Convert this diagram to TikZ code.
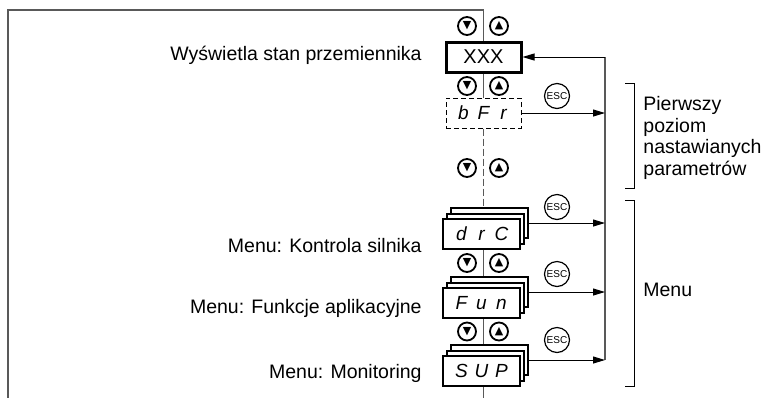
\documentclass[tikz,border=0pt]{standalone}
\usepackage{fontspec}
\setmainfont{Liberation Sans}
\newfontfamily\symfont{DejaVu Sans}
\usetikzlibrary{arrows.meta}

% seven segment display text, one fixed cell per character
\newcommand{\segtxt}[3]{\makebox[10pt]{#1}\makebox[10pt]{#2}\makebox[10pt]{#3}}

\tikzset{
  rail/.style={black!65, line width=0.7pt},
  wire/.style={black, line width=0.5pt},
  keybtn/.style={circle, draw, line width=0.9pt, minimum size=9pt, inner sep=0pt, font=\symfont\fontsize{5.5}{5.5}\selectfont},
  escbtn/.style={circle, draw, line width=0.6pt, minimum size=12.5pt, inner sep=0pt, font=\fontsize{5}{5}\selectfont},
  dispbox/.style={draw, minimum width=37.5pt, minimum height=15pt, inner sep=0pt},
  lcdbox/.style={draw, fill=white, line width=1pt, minimum width=38.5pt, minimum height=15pt, inner sep=0pt, font=\itshape\fontsize{9.5}{9.5}\selectfont},
  menutext/.style={anchor=east, inner sep=0pt, font=\fontsize{9.75}{10.75}\selectfont},
  sidetext/.style={align=left, inner sep=0pt, font=\fontsize{9.75}{10.75}\selectfont},
}

\begin{document}
\begin{tikzpicture}[x=0.5pt, y=-0.5pt, >={Triangle[length=6pt,width=3.5pt]}]
\useasboundingbox (0,0) rectangle (764,398);

\coordinate (tl) at (8,10);
\coordinate (bl) at (8,398);
\coordinate (bot) at (483.5,398);
\coordinate (rail) at (605,0);

% displays
\node[dispbox, line width=1.5pt, font=\fontsize{10}{10}\selectfont] (disp) at (483.5,57) {XXX};
\node[dispbox, line width=0.5pt, dash pattern=on 2.5pt off 1.5pt, font=\itshape\fontsize{9.5}{9.5}\selectfont] (bfr) at (483.5,113) {\segtxt{b}{F}{r}};

\node[lcdbox] (drcB) at (489.5,223) {};
\node[lcdbox] (drcM) at (485.5,228.5) {};
\node[lcdbox] (drcF) at (481.5,234) {\segtxt{d}{r}{C}};

\node[lcdbox] (funB) at (489.5,292) {};
\node[lcdbox] (funM) at (485.5,297.5) {};
\node[lcdbox] (funF) at (481.5,303) {\segtxt{F}{u}{n}};

\node[lcdbox] (supB) at (489.5,360) {};
\node[lcdbox] (supM) at (485.5,365.5) {};
\node[lcdbox] (supF) at (481.5,371) {\segtxt{S}{U}{P}};

% keys
\node[keybtn] (dn1) at (467,26) {▼};
\node[keybtn] (up1) at (499,26) {▲};
\node[keybtn] (dn2) at (467,86) {▼};
\node[keybtn] (up2) at (499,86) {▲};
\node[keybtn] (dn3) at (467,168) {▼};
\node[keybtn] (up3) at (499,168) {▲};
\node[keybtn] (dn4) at (467,263) {▼};
\node[keybtn] (up4) at (499,263) {▲};
\node[keybtn] (dn5) at (467,331.5) {▼};
\node[keybtn] (up5) at (499,331.5) {▲};

\node[escbtn] (esc1) at (557,96) {ESC};
\node[escbtn] (esc2) at (557,207) {ESC};
\node[escbtn] (esc3) at (557,274) {ESC};
\node[escbtn] (esc4) at (557,340) {ESC};

% texts
\node[menutext] (tdisp) at (422,55) {Wyświetla stan przemiennika};
\node[menutext] (tdrc) at (422,246) {Menu: Kontrola silnika};
\node[menutext] (tfun) at (422,308) {Menu: Funkcje aplikacyjne};
\node[menutext] (tsup) at (422,373) {Menu: Monitoring};
\node[sidetext, anchor=north west] (tlvl) at (643,96) {Pierwszy\\poziom\\nastawianych\\parametrów};
\node[sidetext, anchor=west] (tmenu) at (643,290) {Menu};

% center line and frame
\draw[rail] (disp.north) |- (tl) -- (bl);
\draw[rail] (disp.south) -- (bfr.north);
\draw[rail, dash pattern=on 3.5pt off 1.5pt] (bfr.south) -- (bfr.south |- drcB.north);
\draw[rail] (disp.south |- drcF.south) -- (disp.south |- funB.north);
\draw[rail] (disp.south |- funF.south) -- (disp.south |- supB.north);
\draw[rail] (disp.south |- supF.south) -- (bot);

% escape return
\draw[rail] (rail |- disp.east) -- (rail |- supB.east);
\draw[->, wire] (rail |- disp.east) -- (disp.east);
\draw[->, wire] (bfr.east) -- (bfr.east -| rail);
\draw[->, wire] (drcB.east) -- (drcB.east -| rail);
\draw[->, wire] (funB.east) -- (funB.east -| rail);
\draw[->, wire] (supB.east) -- (supB.east -| rail);

% brackets
\draw[wire] (625,83) -| (634,188) -- (625,188);
\draw[wire] (625,200) -| (634,386) -- (625,386);
\end{tikzpicture}
\end{document}
